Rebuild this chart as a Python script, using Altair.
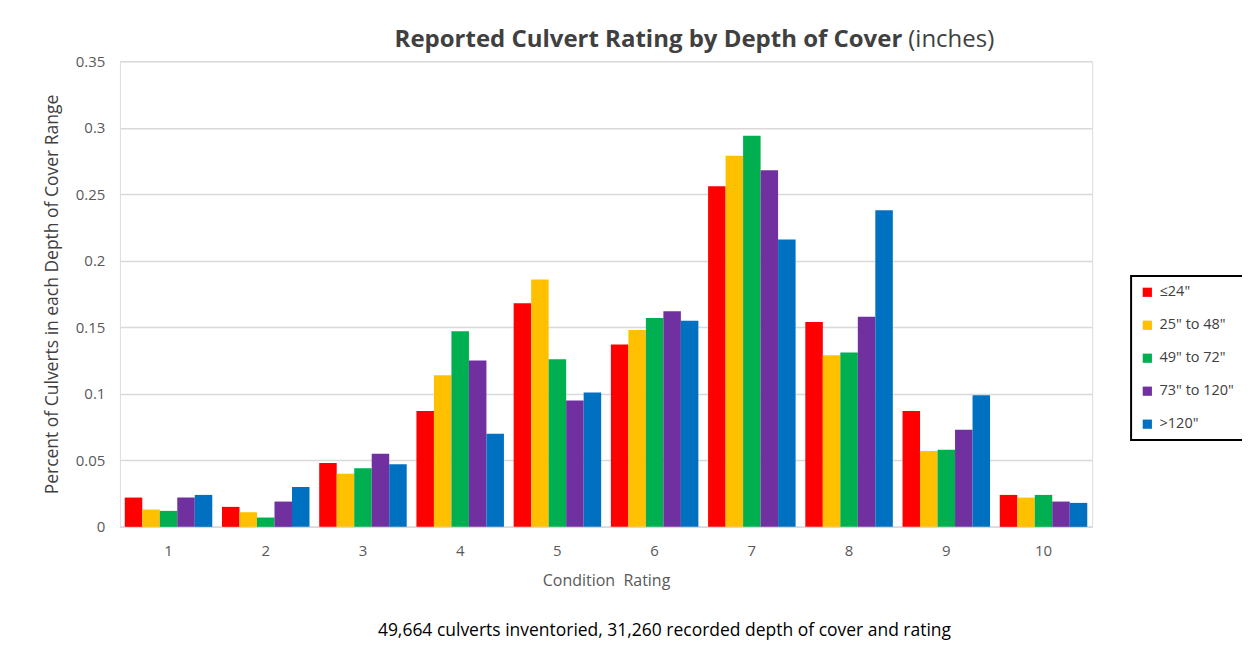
import altair as alt
import pandas as pd

ratings = ["1", "2", "3", "4", "5", "6", "7", "8", "9", "10"]
series = ['≤24"', '25" to 48"', '49" to 72"', '73" to 120"', '>120"']
colors = ["#FF0000", "#FFC000", "#00B050", "#7030A0", "#0070C0"]

v_le24 = [0.022, 0.015, 0.048, 0.087, 0.168, 0.137, 0.256, 0.154, 0.087, 0.024]
v_25_48 = [0.013, 0.011, 0.040, 0.114, 0.186, 0.148, 0.279, 0.129, 0.057, 0.022]
v_49_72 = [0.012, 0.007, 0.044, 0.147, 0.126, 0.157, 0.294, 0.131, 0.058, 0.024]
v_73_120 = [0.022, 0.019, 0.055, 0.125, 0.095, 0.162, 0.268, 0.158, 0.073, 0.019]
v_gt120 = [0.024, 0.030, 0.047, 0.070, 0.101, 0.155, 0.216, 0.238, 0.099, 0.018]

y_ticks = [0, 0.05, 0.1, 0.15, 0.2, 0.25, 0.3, 0.35]

title_bold = "Reported Culvert Rating by Depth of Cover"
title_normal = "(inches)"
x_title = "Condition\u00a0 Rating"
y_title = "Percent of Culverts in each Depth of Cover Range"
footnote = "49,664 culverts inventoried, 31,260 recorded depth of cover and rating"

all_vals = [v_le24, v_25_48, v_49_72, v_73_120, v_gt120]
rows = []
for si, (s, vals) in enumerate(zip(series, all_vals)):
    for r, v in zip(ratings, vals):
        rows.append({"rating": r, "series": s, "order": si, "value": v})
df = pd.DataFrame(rows)

FONT = "Open Sans"
W, H = 973, 466

bars = alt.Chart(df).mark_bar().encode(
    x=alt.X("rating:N", sort=ratings,
            scale=alt.Scale(paddingInner=0.1, paddingOuter=0.05),
            axis=alt.Axis(title=x_title, labelAngle=0, ticks=False,
                          domainColor="#d9d9d9", domainWidth=1.5,
                          labelColor="#595959", labelFontSize=15, labelFont=FONT,
                          labelPadding=17, titleColor="#595959", titleFontSize=16,
                          titleFont=FONT, titleFontWeight="normal", titlePadding=14)),
    xOffset=alt.XOffset("series:N", sort=series, scale=alt.Scale(paddingInner=0, paddingOuter=0)),
    y=alt.Y("value:Q", scale=alt.Scale(domain=[0, 0.35], nice=False),
            axis=alt.Axis(title=y_title, values=y_ticks, format="~g", ticks=False,
                          domain=False, gridColor="#d9d9d9", gridWidth=1.5,
                          labelColor="#595959", labelFontSize=15, labelFont=FONT,
                          labelPadding=15, titleColor="#404040", titleFontSize=17.5,
                          titleFont=FONT, titleFontWeight="normal", titlePadding=14)),
    color=alt.Color("series:N", sort=series,
                    scale=alt.Scale(domain=series, range=colors),
                    legend=alt.Legend(title=None, orient="none", legendX=1012, legendY=215,
                                      strokeColor="black", padding=9,
                                      symbolType="square", symbolSize=85,
                                      symbolStrokeWidth=0, rowPadding=18,
                                      labelOffset=5,
                                      labelFont=FONT, labelFontSize=14.5,
                                      labelColor="#404040", labelLimit=200)),
)

t_bold = alt.Chart(pd.DataFrame({"t": [title_bold]})).mark_text(
    align="right", baseline="alphabetic", font=FONT, fontSize=24,
    fontWeight="bold", color="#404040"
).encode(x=alt.value(783), y=alt.value(-14), text="t:N")

t_norm = alt.Chart(pd.DataFrame({"t": [title_normal]})).mark_text(
    align="left", baseline="alphabetic", font=FONT, fontSize=24,
    fontWeight="normal", color="#404040"
).encode(x=alt.value(789), y=alt.value(-14), text="t:N")

foot = alt.Chart(pd.DataFrame({"t": [footnote]})).mark_text(
    align="center", baseline="middle", font=FONT, fontSize=17.5, color="black"
).encode(x=alt.value(545), y=alt.value(570), text="t:N")

chart = alt.layer(bars, t_bold, t_norm, foot).properties(
    width=W, height=H,
    autosize=alt.AutoSizeParams(type="none"),
    padding={"left": 112, "top": 53, "right": 150, "bottom": 122},
).configure_view(stroke=None).configure(background="white").configure_legend(strokeWidth=2)

chart.save("out.html", embed_options={"renderer": "svg", "actions": False})
